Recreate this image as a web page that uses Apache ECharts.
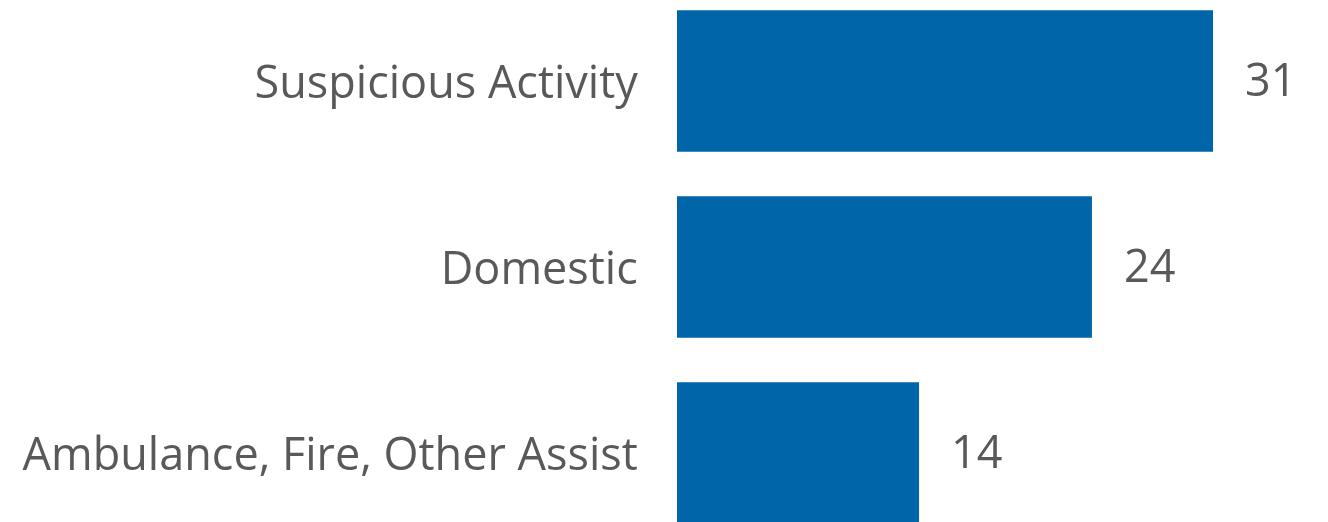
<!DOCTYPE html>
<html><head><meta charset="utf-8">
<script src="https://cdn.jsdelivr.net/npm/echarts@6/dist/echarts.min.js"></script>
<style>html,body{margin:0;padding:0;background:#fff}#c{width:1328px;height:522px}</style>
</head><body><div id="c"></div>
<script>
const categories = ["Suspicious Activity", "Domestic", "Ambulance, Fire, Other Assist"];
const values = [31, 24, 14];

const chart = echarts.init(document.getElementById('c'), null, {renderer: 'canvas'});
chart.setOption({
  animation: false,
  grid: {left: 677, width: 536, top: -12, height: 558, outerBoundsMode: 'none', containLabel: false},
  xAxis: {type: 'value', min: 0, max: 31, show: false},
  yAxis: {
    type: 'category', inverse: true, data: categories,
    axisLine: {show: false}, axisTick: {show: false},
    axisLabel: {
      margin: 39, color: '#595959', fontSize: 45, fontFamily: 'Open Sans',
      formatter: '{a|{value}}{s| }',
      rich: {
        a: {color: '#595959', fontSize: 45, fontFamily: 'Open Sans', lineHeight: 45, verticalAlign: 'bottom'},
        s: {fontSize: 1, lineHeight: 54}
      }
    }
  },
  series: [{
    type: 'bar', data: values, barCategoryGap: '24%',
    itemStyle: {color: '#0065A9'},
    label: {show: true, position: 'right', distance: 32, color: '#595959', fontSize: 45, fontFamily: 'Open Sans', offset: [0, 2]}
  }]
});
</script></body></html>
